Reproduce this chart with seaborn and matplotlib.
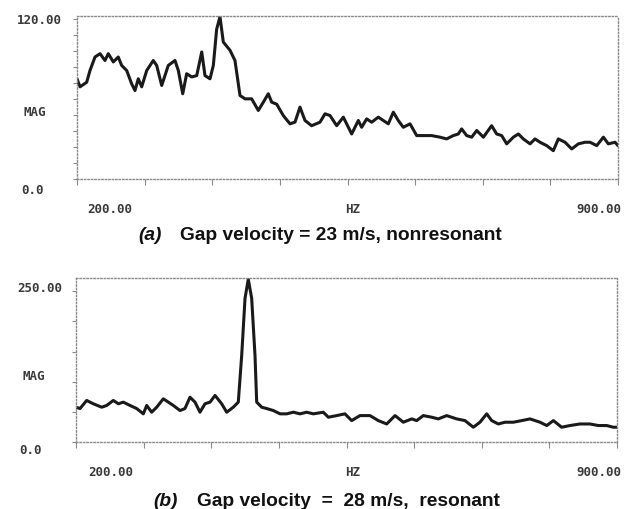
import numpy as np
import pandas as pd
import matplotlib
matplotlib.use("Agg")
import matplotlib.pyplot as plt
import seaborn as sns

# ---------------- data ----------------
freq_a = [200, 203.9, 212.5, 216.8, 223.3, 229.8, 236.2, 240.5, 247, 253.4, 257.8, 264.3,
          270.7, 275, 279.3, 283.7, 290.2, 298.7, 303.1, 309.6, 318.1, 326.8, 331.1, 336.8,
          341.9, 348.4, 354.9, 361.4, 365.6, 372.1, 376.4, 380.7, 385, 389.3, 398, 404.4,
          410.9, 417.4, 426, 434.6, 441.1, 447.5, 451.9, 458.4, 466.9, 475.6, 482.1, 488.5,
          495, 503.6, 514.4, 520.9, 527.4, 536, 544.6, 555.4, 564, 568.3, 574.8, 581.3,
          589.9, 596.3, 602.8, 609.3, 615.7, 622.2, 630.9, 639.5, 648.1, 658.9, 669.7, 678.3,
          686.9, 693.4, 697.7, 704.2, 710.7, 717.2, 725.8, 736.5, 743, 749.5, 756, 764.6,
          771.1, 777.5, 786.2, 792.6, 799.1, 807.7, 816.3, 822.8, 831.5, 840.1, 848.7, 857.3,
          863.8, 872.5, 881.1, 887.5, 896.2, 900]
mag_a = [75.0, 69.0, 72.4, 81.2, 91.3, 93.8, 88.7, 93.8, 87.6, 91.3, 85.0, 81.2,
         71.3, 66.2, 75.0, 69.0, 81.2, 88.7, 85.0, 70.0, 85.0, 88.7, 81.2, 63.8,
         78.8, 76.4, 77.4, 95.1, 77.4, 75.0, 85.0, 112.1, 121.5, 102.5, 96.3, 88.7,
         62.5, 60.0, 60.0, 51.3, 57.5, 63.8, 57.5, 56.0, 47.5, 41.3, 42.6, 53.8,
         43.8, 39.9, 42.5, 48.8, 47.5, 39.9, 46.3, 33.7, 43.8, 38.7, 45.0, 42.5,
         46.3, 43.8, 41.3, 50.0, 43.8, 38.7, 41.3, 32.5, 32.5, 32.5, 31.3, 30.0,
         32.5, 33.7, 37.5, 32.5, 31.3, 36.3, 31.3, 39.9, 33.7, 32.5, 26.3, 31.3,
         33.7, 30.0, 26.3, 30.0, 27.5, 25.0, 21.2, 30.0, 27.5, 22.5, 26.3, 27.5,
         27.5, 25.0, 31.3, 26.3, 27.5, 25.0]

freq_b = [200, 205.2, 213.8, 222.4, 233.2, 239.7, 248.3, 254.8, 261.2, 269.9, 278.5, 287.1,
          291.5, 297.9, 304.4, 313, 319.5, 325.9, 334.6, 341, 347.5, 354, 360.4, 366.9,
          373.4, 379.9, 388.5, 395, 403.5, 410, 414.4, 418.7, 422.9, 427.3, 431.6, 433.8,
          440.3, 446.7, 455.3, 464, 472.6, 481.2, 489.8, 498.5, 507, 520, 526.5, 537.3,
          548, 556.7, 567.5, 580.4, 591.2, 602, 612.8, 623.5, 634.4, 640.8, 649.4, 660.2,
          668.8, 679.6, 692.6, 703.3, 714.1, 722.7, 731.4, 737.9, 746.4, 755.1, 765.9, 776.7,
          787.5, 794, 800.4, 809.1, 817.7, 828.4, 839.2, 852.1, 865.1, 875.8, 886.7, 895.2, 900]
mag_b = [57.7, 55.5, 68.9, 63.4, 57.7, 60.6, 68.9, 63.4, 66.1, 60.6, 55.5, 46.7,
         60.6, 49.4, 57.7, 71.6, 66.1, 60.6, 52.2, 55.5, 74.3, 66.1, 49.4, 63.4,
         66.1, 77.2, 63.4, 49.4, 57.7, 66.1, 143.8, 238.3, 270.0, 238.3, 143.8, 66.1,
         57.7, 55.5, 52.2, 46.7, 46.7, 49.4, 46.7, 49.4, 46.7, 49.4, 41.1, 43.8,
         46.7, 35.5, 43.8, 43.8, 35.5, 29.9, 43.8, 32.8, 38.3, 35.5, 43.8, 41.1,
         38.3, 43.8, 38.3, 35.5, 24.5, 32.8, 46.7, 35.5, 29.9, 32.8, 32.8, 35.5,
         38.3, 35.5, 32.8, 27.3, 35.5, 24.5, 27.3, 29.9, 29.9, 27.3, 27.3, 24.5, 24.5]

top_labels_a = ["120.00", "MAG", "0.0"]
top_labels_b = ["250.00", "MAG", "0.0"]
x_labels = ["200.00", "HZ", "900.00"]
caption_a = ("(a)", "Gap velocity = 23 m/s, nonresonant")
caption_b = ("(b)", "Gap velocity  =  28 m/s,  resonant")

# ---------------- style ----------------
sns.set_theme(style="white")
plt.rcParams["font.family"] = ["DejaVu Sans"]

W, H = 628, 510
fig = plt.figure(figsize=(W / 100, H / 100), dpi=100)
fig.patch.set_facecolor("white")

def fx(px):
    return px / W

def fy(py):
    return 1 - py / H

ax_a = fig.add_axes([fx(77), fy(180), 541 / W, 163 / H])
ax_b = fig.add_axes([fx(76), fy(443), 541 / W, 164 / H])

df_a = pd.DataFrame({"freq": freq_a, "mag": mag_a})
df_b = pd.DataFrame({"freq": freq_b, "mag": mag_b})

line_col = "#1a1a1a"
frame_col = "#8a8a8a"
lab_font = dict(family="DejaVu Sans Mono", fontweight="bold", fontsize=9, color="#3a3a3a")

for ax, df, ytop, ystep in [(ax_a, df_a, 122, 12), (ax_b, df_b, 272, 50)]:
    sns.lineplot(data=df, x="freq", y="mag", ax=ax, color=line_col, linewidth=2.2,
                 estimator=None, sort=False)
    ax.set_xlim(200, 900)
    ax.set_ylim(0, ytop)
    ax.set_xlabel("")
    ax.set_ylabel("")
    ax.set_xticks(np.arange(200, 900.1, 87.5))
    ax.set_yticks(np.arange(0, ytop, ystep))
    ax.set_xticklabels([])
    ax.set_yticklabels([])
    ax.tick_params(axis="x", direction="out", length=4, width=0.8, color=frame_col, bottom=True)
    ax.tick_params(axis="y", direction="out", length=3, width=0.8, color=frame_col, left=True)
    ax.set_facecolor("white")
    for s in ax.spines.values():
        s.set_visible(True)
        s.set_color(frame_col)
        s.set_linewidth(1.0)
        s.set_linestyle((0, (1, 1.5)))
    ax.grid(False)

def ftext(px, py, s, ha="center", **kw):
    fig.text(fx(px), fy(py), s, ha=ha, va="center", **kw)

# panel (a) labels
ftext(62, 20, top_labels_a[0], ha="right", **lab_font)
ftext(35, 112, top_labels_a[1], **lab_font)
ftext(33, 190, top_labels_a[2], **lab_font)
ftext(110, 210, x_labels[0], **lab_font)
ftext(353, 210, x_labels[1], **lab_font)
ftext(621, 210, x_labels[2], ha="right", **lab_font)

# panel (b) labels
ftext(62, 288, top_labels_b[0], ha="right", **lab_font)
ftext(34, 377, top_labels_b[1], **lab_font)
ftext(30, 451, top_labels_b[2], **lab_font)
ftext(111, 473, x_labels[0], **lab_font)
ftext(353, 473, x_labels[1], **lab_font)
ftext(621, 473, x_labels[2], ha="right", **lab_font)

cap_font = dict(family="Liberation Sans", fontsize=13.8, fontweight="bold", color="#111111")
ftext(138, 236, caption_a[0], ha="left", style="italic", **cap_font)
ftext(180, 236, caption_a[1], ha="left", **cap_font)
ftext(153, 502, caption_b[0], ha="left", style="italic", **cap_font)
ftext(197, 502, caption_b[1], ha="left", **cap_font)

fig.savefig("out.png", dpi=100, facecolor="white")
